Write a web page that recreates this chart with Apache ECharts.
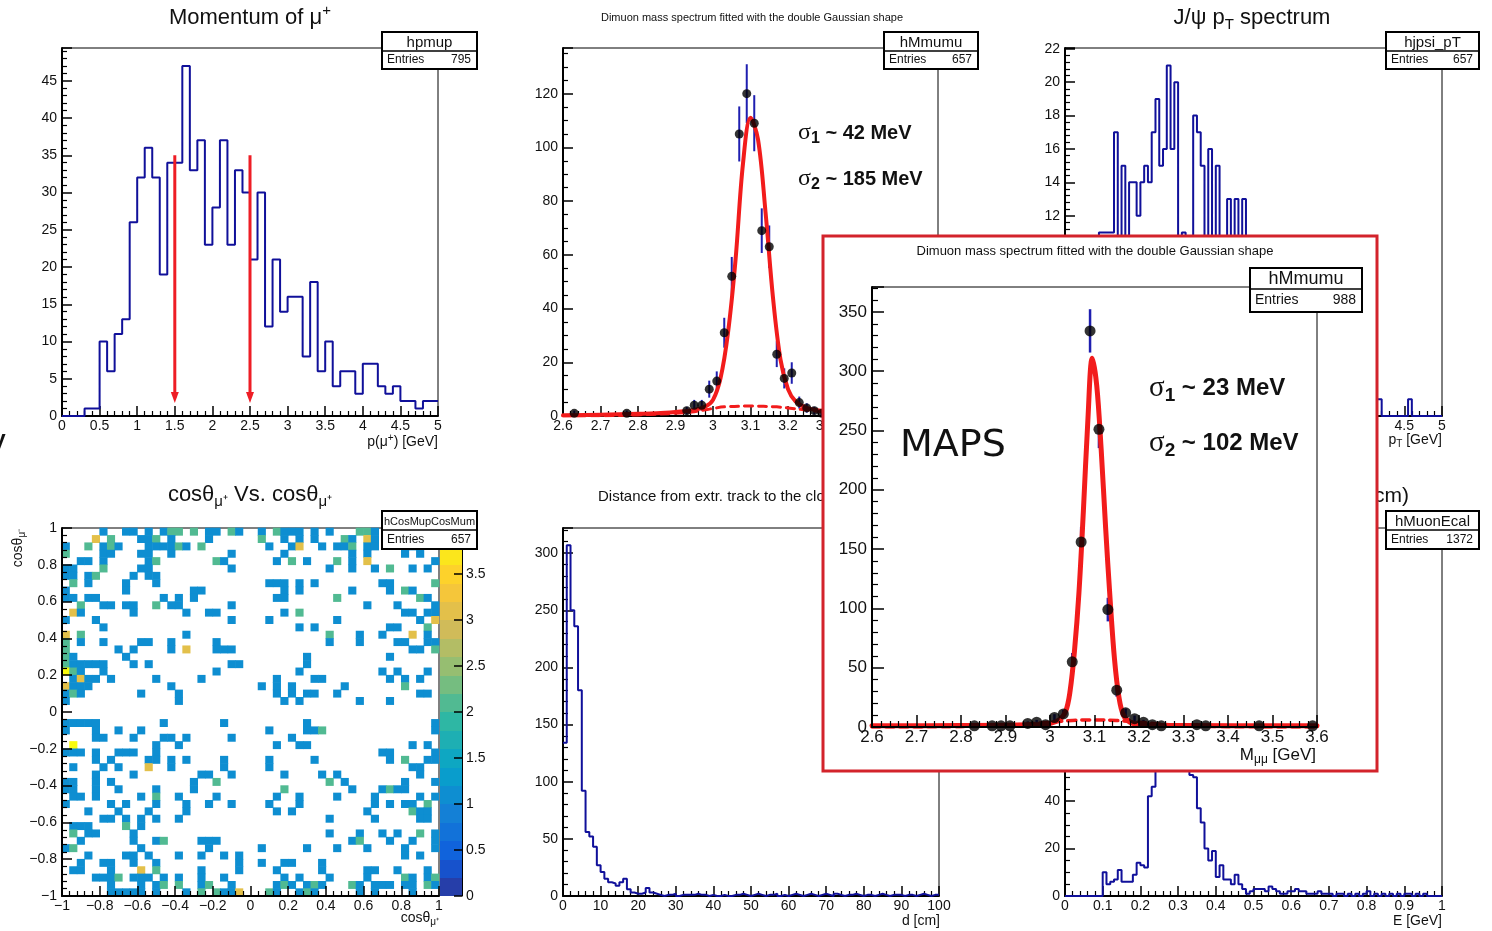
<!DOCTYPE html>
<html>
<head>
<meta charset="utf-8">
<title>J/psi to mu mu control plots</title>
<script src="https://cdn.jsdelivr.net/npm/echarts@6/dist/echarts.min.js"></script>
<style>
  html, body { margin: 0; padding: 0; background: #fff; }
  #main { width: 1492px; height: 931px; }
</style>
</head>
<body>
<div id="main"></div>
<script>
// ---------- values ----------

// hpmup : momentum of mu+, 50 bins from 0 to 5 GeV
var pmupCounts = [0, 0, 0, 1, 1, 10, 6, 11, 13, 26,
                  32, 36, 32, 19, 34, 34, 47, 33, 37, 23,
                  28, 37, 23, 33, 30, 21, 30, 12, 21, 14,
                  16, 16, 8, 18, 6, 10, 4, 6, 6, 3,
                  7, 7, 4, 3, 4, 2, 2, 1, 2, 2];
var pmupCuts = [1.5, 2.5];
var pmupArrowTop = 35, pmupArrowTip = 2.5;

// hMmumu (upper plot): bin centres and contents
var mmX = [2.63, 2.77, 2.93, 2.95, 2.97, 2.99, 3.01, 3.03, 3.05, 3.07, 3.09, 3.11, 3.13, 3.15, 3.17, 3.19, 3.21, 3.23, 3.25, 3.27, 3.29, 3.35, 3.43, 3.51];
var mmY = [1, 1, 2, 4, 4, 10, 13, 31, 52, 105, 120, 109, 69, 63, 23, 14, 16, 5, 3, 2, 1, 1, 1, 1];
// fitted double gaussian (solid) and its wide component (dashed)
var mmFitX = [2.6, 2.7, 2.8, 2.85, 2.9, 2.95, 2.98, 3.0, 3.02, 3.04, 3.06, 3.08, 3.1, 3.12, 3.14, 3.16, 3.18, 3.2, 3.22, 3.25, 3.3, 3.4, 3.5, 3.6];
var mmFitY = [0.3, 0.5, 0.8, 1.0, 1.5, 2.2, 3.5, 6, 14, 31, 58, 94, 111, 103, 76, 44, 21, 10, 5.5, 3.0, 1.8, 0.9, 0.4, 0.2];
var mmWideX = [2.6, 2.7, 2.8, 2.9, 2.95, 3.0, 3.03, 3.1, 3.17, 3.2, 3.25, 3.3, 3.4, 3.5, 3.6];
var mmWideY = [0.0, 0.1, 0.4, 1.0, 1.6, 2.8, 3.4, 3.7, 3.4, 3.0, 2.2, 1.4, 0.5, 0.1, 0.0];

// hjpsi_pT : 100 bins from 0 to 5 GeV
var ptCounts = [0, 1, 1, 2, 3, 4, 6, 7, 9, 11,
                11, 11, 11, 17, 9, 15, 9, 14, 14, 12,
                14, 15, 14, 17, 19, 15, 16, 21, 16, 20,
                10, 11, 10, 9, 18, 17, 15, 10, 16, 10,
                15, 9, 10, 13, 10, 13, 9, 13, 10, 8,
                9, 7, 8, 6, 7, 5, 6, 4, 5, 4,
                3, 4, 3, 2, 3, 2, 2, 1, 2, 1,
                1, 2, 1, 1, 0, 1, 1, 0, 1, 0,
                1, 0, 1, 1, 0, 0, 0, 0, 0, 0,
                0, 1, 0, 0, 0, 0, 0, 0, 0, 0];

// hCosMupCosMum : 50 x 50 cells, rows from cos = +1 (top) down to -1, columns from -1 to +1
var cosRows = [
  "0000010011 0101220201 1021001021 1101010002 2100100100",
  "0000302000 1120100001 0000002001 0101000210 3100010000",
  "1002012100 0111121020 0000000100 1300101120 1100001000",
  "2000011000 1100100000 0010000001 0000000010 1000010100",
  "0011010000 0120000000 2100000010 2010002010 3000000001",
  "1100020000 1100000000 0010000000 0000010010 0102001010",
  "1101200001 0110000000 0000000000 0000000000 0000000000",
  "0201000010 0010000000 0000000111 0101000000 0011000002",
  "1000000010 0000000110 0000000001 0100000010 0001021000",
  "1101100000 0001010100 0000000011 0000002000 0000000210",
  "0020011011 0020110000 0010000000 0000000000 1000100001",
  "0310000001 0000001001 1000000001 0200000000 0000011011",
  "1000100000 0000000000 0010000100 0000001000 0000000103",
  "0000010000 0000000000 0000000000 0101000000 0001100020",
  "3020000000 0000001000 0000000000 0000020001 0010003010",
  "2010010000 1100100000 1000000000 0000010001 0000110011",
  "2000000101 0000103000 1110000000 0000000000 0000001102",
  "2100000010 0000000000 0000000000 0010000000 0001000000",
  "2111110001 0100000000 0011000000 0010000000 0000000000",
  "4210010000 0000000000 1000000000 0100000000 0010100010",
  "0131101000 0010000010 0000000010 0001100000 0001010100",
  "3111000000 0000100000 0000001010 1000000100 0000020000",
  "1210000000 1000010000 0000000010 1011001000 0000000110",
  "1000000000 0000010000 0000000001 0100000001 0001000000",
  "0000000000 0000000000 0000000000 0000000000 0000000000",
  "0000000000 0000000000 0000000000 0000000000 0000000000",
  "1111100000 0001000000 0100000000 0010000000 0000000001",
  "1000100100 1000000000 0000000100 0011200000 0000000001",
  "0000110001 0001101000 0010000000 1000000000 0000000000",
  "0400000000 0010010000 0000000010 0110000000 0000001010",
  "1110100111 0010000000 0000000000 0000000000 0011000001",
  "0000101000 0110101000 0100000100 0001000000 0001020011",
  "0100010100 0300100000 0100000100 0000000000 0000001100",
  "0000100001 0000000011 0010000001 0000101000 0000000100",
  "1100101000 0000000100 2000000000 0000020100 0000010001",
  "1100100100 0010000100 0000000002 0000000010 0012110000",
  "0110100000 1020010000 1000000010 0100001000 0100000101",
  "1000001010 0010001001 0010000100 0100000000 0101011020",
  "0001000100 0100001000 0000000010 1000000000 1000002110",
  "0000011010 1010010000 0000000000 0000010000 0100000110",
  "0111000020 1000000000 0000000000 0000000000 0000000000",
  "0201100001 0000000000 0000000000 0000010001 0010100201",
  "0010000001 0012000011 1000000000 0000000012 0001001001",
  "1200000000 1000000001 0000001000 0010001000 1000010001",
  "0001000011 0100010010 0101000000 0000000000 0000010100",
  "0010011001 0010000000 0001001001 1000100000 0000000000",
  "0110001000 3020000010 0001000010 0000100000 1100100010",
  "0000111201 1101010010 0100000001 0100010000 1000021012",
  "0000001000 1012020012 0010000012 1012100021 0111011021",
  "0000001111 1010001020 2113000210 0121000001 0100001000"
];

// distance from extrapolated track to closest cluster : 100 bins from 0 to 100 cm
var distCounts = [134, 307, 250, 236, 180, 92, 56, 52, 43, 27,
                  21, 15, 12, 11, 9, 12, 15, 6, 3, 2,
                  2, 3, 7, 3, 2, 1, 0, 1, 1, 2,
                  0, 1, 1, 1, 1, 2, 1, 1, 0, 1,
                  0, 0, 1, 0, 0, 1, 1, 2, 1, 0,
                  1, 2, 1, 0, 1, 1, 2, 0, 1, 0,
                  1, 2, 1, 0, 1, 2, 1, 0, 1, 2,
                  1, 0, 2, 1, 0, 1, 1, 2, 1, 0,
                  1, 1, 0, 1, 2, 1, 0, 1, 1, 1,
                  0, 1, 1, 0, 1, 2, 1, 0, 1, 1];

// hMuonEcal : 100 bins from 0 to 1 GeV
var ecalCounts = [0, 0, 0, 0, 0, 0, 0, 0, 0, 0,
                  10, 5, 6, 7, 11, 6, 6, 6, 9, 14,
                  13, 12, 42, 46, 60, 85, 118, 147, 140, 110,
                  80, 62, 55, 51, 50, 37, 31, 20, 15, 19,
                  8, 13, 7, 7, 5, 9, 5, 3, 1, 2,
                  3, 3, 3, 2, 4, 3, 2, 1, 1, 2,
                  2, 3, 2, 2, 1, 1, 1, 2, 1, 1,
                  1, 0, 1, 1, 0, 1, 0, 1, 0, 1,
                  2, 0, 1, 0, 1, 0, 1, 0, 1, 0,
                  1, 1, 0, 1, 0, 1, 0, 0, 0, 0];

// hMmumu with MAPS (inset): bin centres and contents
var mapsX = [2.83, 2.87, 2.89, 2.91, 2.95, 2.97, 2.99, 3.01, 3.03, 3.05, 3.07, 3.09, 3.11, 3.13, 3.15, 3.17, 3.19, 3.21, 3.23, 3.25, 3.33, 3.35, 3.47, 3.59];
var mapsY = [1, 1, 1, 1, 3, 4, 2, 8, 11, 55, 156, 334, 251, 99, 31, 12, 7, 4, 2, 1, 2, 1, 1, 1];
var mapsFitX = [2.6, 2.8, 2.95, 3.0, 3.02, 3.035, 3.045, 3.055, 3.065, 3.075, 3.085, 3.095, 3.105, 3.115, 3.125, 3.135, 3.145, 3.155, 3.165, 3.18, 3.2, 3.3, 3.6];
var mapsFitY = [1.0, 1.2, 1.8, 3, 6, 13, 30, 64, 113, 182, 258, 311, 288, 234, 168, 108, 57, 25, 10, 4, 2, 1.2, 1.0];
var mapsWideX = [2.6, 2.8, 2.9, 2.95, 3.0, 3.05, 3.1, 3.15, 3.2, 3.25, 3.3, 3.4, 3.6];
var mapsWideY = [0, 0.3, 1.2, 2.5, 4, 5.5, 6, 5.5, 4, 2.5, 1.2, 0.3, 0];

// ---------- styling ----------
var FONT = '"Liberation Sans", Arial, Helvetica, sans-serif';
var SERIF = '"Liberation Serif", "DejaVu Serif", serif';
var INK = '#111';
var HIST = '#10109a';
var ERRB = '#1f1fb0';
var FITRED = '#f21c1c';
var FRAME_RED = '#d3232b';

// ROOT "bird" palette stops
var birdPos = [0, 0.125, 0.25, 0.375, 0.5, 0.625, 0.75, 0.875, 1];
var birdR = [0.2082, 0.0592, 0.0780, 0.0232, 0.1802, 0.5301, 0.8186, 0.9956, 0.9764];
var birdG = [0.1664, 0.3599, 0.5041, 0.6419, 0.7178, 0.7492, 0.7328, 0.7862, 0.9832];
var birdB = [0.5293, 0.8684, 0.8385, 0.7914, 0.6425, 0.4662, 0.3499, 0.1968, 0.0539];
function bird(t) {
  var i = 0;
  while (i < birdPos.length - 2 && t > birdPos[i + 1]) i++;
  var f = (t - birdPos[i]) / (birdPos[i + 1] - birdPos[i]);
  function ch(a) { return Math.round(255 * (a[i] + f * (a[i + 1] - a[i]))); }
  return 'rgb(' + ch(birdR) + ',' + ch(birdG) + ',' + ch(birdB) + ')';
}
var zMax = 4, nLevels = 20;
var levels = [];
for (var k = 0; k < nLevels; k++) {
  levels.push([(k * zMax) / nLevels, ((k + 1) * zMax) / nLevels, bird((k + 0.99) / nLevels)]);
}

function fmt(v) {
  return String(Math.round(v * 10000) / 10000).replace('-', '\u2212');
}
function stepData(counts, x0, w) {
  var d = [];
  for (var i = 0; i < counts.length; i++) d.push([x0 + i * w, counts[i]]);
  d.push([x0 + counts.length * w, counts[counts.length - 1]]);
  return d;
}
function pairs(xs, ys) {
  return xs.map(function (x, i) { return [x, ys[i]]; });
}

function axis(grid, min, max, interval, split, o) {
  o = o || {};
  var tick = o.tick || 10;
  return {
    gridIndex: grid, type: 'value', min: min, max: max, interval: interval,
    position: o.position,
    zlevel: o.zlevel || 0, z: o.zlevel ? 6 : 2,
    axisLine: { show: true, onZero: false, lineStyle: { color: '#000', width: o.lineW || 2 } },
    axisTick: { show: true, inside: true, length: tick, lineStyle: { color: '#000', width: 1.5 } },
    minorTick: { show: split > 0, splitNumber: split || 5, length: tick / 2, lineStyle: { color: '#000', width: 1.2 } },
    splitLine: { show: false },
    axisLabel: {
      color: INK, fontSize: o.font || 14, fontFamily: FONT, margin: o.margin || 5,
      formatter: fmt, showMaxLabel: o.maxLabel === false ? false : null
    }
  };
}

var grids = [
  { left: 62, top: 48, width: 376, height: 368 },    // momentum
  { left: 563, top: 48, width: 375, height: 368 },   // dimuon mass
  { left: 1065, top: 48, width: 377, height: 368 },  // pT
  { left: 62, top: 528, width: 377, height: 368 },   // cos vs cos
  { left: 440, top: 528, width: 22, height: 368, borderWidth: 0 }, // palette
  { left: 563, top: 528, width: 376, height: 368 },  // distance
  { left: 1065, top: 528, width: 377, height: 368 }, // ecal
  { left: 872, top: 287, width: 445, height: 440, zlevel: 1, z: 5 } // MAPS inset
].map(function (g) {
  g.show = true;
  g.borderColor = '#000';
  if (g.borderWidth == null) g.borderWidth = 1;
  g.backgroundColor = 'rgba(0,0,0,0)';
  g.outerBoundsMode = 'none';
  return g;
});

var xAxes = [
  axis(0, 0, 5, 0.5, 5, { margin: 3 }),
  axis(1, 2.6, 3.6, 0.1, 5, { margin: 3 }),
  axis(2, 0, 5, 0.5, 5, { margin: 3 }),
  axis(3, -1, 1, 0.2, 5, { margin: 3 }),
  { gridIndex: 4, type: 'value', min: 0, max: 1, show: false },
  axis(5, 0, 100, 10, 5, { margin: 3 }),
  axis(6, 0, 1, 0.1, 5, { margin: 3 }),
  axis(7, 2.6, 3.6, 0.1, 5, { zlevel: 1, font: 17, tick: 12, margin: 2 })
];
var yAxes = [
  axis(0, 0, 49.4, 5, 5, { maxLabel: false }),
  axis(1, 0, 137, 20, 4, { maxLabel: false }),
  axis(2, 0, 22.05, 2, 5, { maxLabel: false }),
  axis(3, -1, 1, 0.2, 5),
  axis(4, 0, 4, 0.5, 0, { position: 'right', lineW: 1, tick: 8, maxLabel: false, margin: 4 }),
  axis(5, 0, 322, 50, 5, { maxLabel: false }),
  axis(6, 0, 155, 20, 4, { maxLabel: false }),
  axis(7, 0, 371, 50, 5, { zlevel: 1, font: 17, tick: 12, maxLabel: false })
];

// ---------- series ----------
function histLine(ai, counts, x0, w) {
  return {
    type: 'line', xAxisIndex: ai, yAxisIndex: ai, data: stepData(counts, x0, w),
    step: 'end', symbol: 'none', lineStyle: { color: HIST, width: 2 }, z: 3
  };
}
function errBars(ai, xs, ys, width, zl) {
  return {
    type: 'custom', xAxisIndex: ai, yAxisIndex: ai, zlevel: zl || 0, z: 3,
    data: pairs(xs, ys),
    renderItem: function (params, api) {
      var x = api.value(0), y = api.value(1), e = Math.sqrt(y);
      var a = api.coord([x, y - e]), b = api.coord([x, y + e]);
      return { type: 'line', shape: { x1: a[0], y1: a[1], x2: b[0], y2: b[1] }, style: { stroke: ERRB, lineWidth: width } };
    }
  };
}
function fitLine(ai, xs, ys, width, dashed, zl) {
  return {
    type: 'line', xAxisIndex: ai, yAxisIndex: ai, zlevel: zl || 0, z: dashed ? 4 : 5,
    data: pairs(xs, ys), smooth: 0.35, symbol: 'none',
    lineStyle: { color: FITRED, width: width, type: dashed ? [8, 6] : 'solid', join: 'round', cap: 'round' }
  };
}
function dots(ai, xs, ys, size, zl) {
  return {
    type: 'scatter', xAxisIndex: ai, yAxisIndex: ai, zlevel: zl || 0, z: 6,
    data: pairs(xs, ys), symbolSize: size, itemStyle: { color: '#000' }
  };
}

var series = [];
// momentum of mu+
series.push(histLine(0, pmupCounts, 0, 0.1));
pmupCuts.forEach(function (c) {
  series.push({
    type: 'line', xAxisIndex: 0, yAxisIndex: 0, z: 4,
    data: [{ value: [c, pmupArrowTop], symbol: 'none' }, { value: [c, pmupArrowTip] }],
    symbol: 'triangle', symbolSize: [8, 11], symbolRotate: 180, showSymbol: true,
    itemStyle: { color: '#ee1d25' }, lineStyle: { color: '#ee1d25', width: 3 }
  });
});
// dimuon mass
series.push(errBars(1, mmX, mmY, 2));
series.push(fitLine(1, mmWideX, mmWideY, 3, true));
series.push(fitLine(1, mmFitX, mmFitY, 4, false));
series.push(dots(1, mmX, mmY, 9));
// pT
series.push(histLine(2, ptCounts, 0, 0.05));
// cos vs cos
var cosBinW = 0.04;
var cells = [];
cosRows.forEach(function (row, r) {
  var s = row.replace(/ /g, '');
  for (var c = 0; c < s.length; c++) {
    var v = +s.charAt(c);
    if (v > 0) cells.push([-1 + c * cosBinW, 1 - (r + 1) * cosBinW, v]);
  }
});
var heatIndex = series.length;
series.push({
  type: 'custom', xAxisIndex: 3, yAxisIndex: 3, z: 2,
  data: cells, encode: { x: 0, y: 1 },
  renderItem: function (params, api) {
    var x = api.value(0), y = api.value(1);
    var a = api.coord([x, y + cosBinW]), b = api.coord([x + cosBinW, y]);
    return {
      type: 'rect',
      shape: { x: a[0] - 0.3, y: a[1] - 0.3, width: b[0] - a[0] + 0.6, height: b[1] - a[1] + 0.6 },
      style: { fill: api.visual('color') }
    };
  }
});
series.push({
  type: 'custom', xAxisIndex: 4, yAxisIndex: 4, z: 2,
  data: levels.map(function (l, i) { return [l[0], l[1], i]; }),
  renderItem: function (params, api) {
    var lo = api.value(0), hi = api.value(1);
    var a = api.coord([0, hi]), b = api.coord([1, lo]);
    return {
      type: 'rect',
      shape: { x: a[0], y: Math.floor(a[1]), width: b[0] - a[0], height: Math.ceil(b[1]) - Math.floor(a[1]) },
      style: { fill: levels[api.value(2)][2] }
    };
  }
});
// distance
series.push(histLine(5, distCounts, 0, 1));
// ecal
series.push(histLine(6, ecalCounts, 0, 0.01));
// MAPS inset
series.push(errBars(7, mapsX, mapsY, 2.5, 1));
series.push(fitLine(7, mapsWideX, mapsWideY, 3.5, true, 1));
series.push(fitLine(7, mapsFitX, mapsFitY, 5, false, 1));
series.push(dots(7, mapsX, mapsY, 11, 1));

// ---------- texts and boxes ----------
function label(x, y, str, size, o) {
  o = o || {};
  var st = {
    text: str,
    font: (o.weight || 'normal') + ' ' + size + 'px ' + (o.family || FONT),
    fill: INK,
    align: o.align || 'left', textAlign: o.align || 'left',
    verticalAlign: 'middle', textVerticalAlign: 'middle'
  };
  if (o.rich) st.rich = o.rich;
  return { type: 'text', x: x, y: y, rotation: o.rotation || 0, zlevel: o.zlevel || 0, z: 120, silent: true, style: st };
}
function richSet(size, extra) {
  var r = {
    t: { fontSize: size, fontFamily: FONT, lineHeight: Math.round(size * 1.3), fill: INK },
    sub: { fontSize: Math.round(size * 0.68), fontFamily: FONT, lineHeight: Math.round(size * 0.62), verticalAlign: 'bottom', fill: INK },
    sup: { fontSize: Math.round(size * 0.68), fontFamily: FONT, lineHeight: Math.round(size * 0.62), verticalAlign: 'top', fill: INK }
  };
  for (var k in (extra || {})) r[k] = extra[k];
  return r;
}
function statsBox(x0, y0, x1, y1, yDiv, name, entries, nameSize, entSize, zl) {
  zl = zl || 0;
  return [
    { type: 'rect', zlevel: zl, z: 110, silent: true, shape: { x: x0, y: y0, width: x1 - x0, height: y1 - y0 }, style: { fill: '#fff', stroke: '#000', lineWidth: 2 } },
    { type: 'line', zlevel: zl, z: 111, silent: true, shape: { x1: x0, y1: yDiv, x2: x1, y2: yDiv }, style: { stroke: '#000', lineWidth: 1.5 } },
    label((x0 + x1) / 2, (y0 + yDiv) / 2 + 1, name, nameSize, { align: 'center', zlevel: zl }),
    label(x0 + 5, (yDiv + y1) / 2, 'Entries', entSize, { zlevel: zl }),
    label(x1 - 6, (yDiv + y1) / 2, String(entries), entSize, { align: 'right', zlevel: zl })
  ];
}
function sigmaText(x, y, idx, str, sSize, bSize, zl) {
  return label(x, y, '{s|\u03c3}{sub|' + idx + '}{b| ~ ' + str + '}', bSize, {
    zlevel: zl,
    rich: {
      s: { fontSize: sSize, fontFamily: SERIF, lineHeight: Math.round(bSize * 1.4), fill: INK },
      sub: { fontSize: Math.round(bSize * 0.78), fontFamily: FONT, fontWeight: 'bold', lineHeight: Math.round(bSize * 0.8), verticalAlign: 'bottom', fill: INK },
      b: { fontSize: bSize, fontFamily: FONT, fontWeight: 'bold', lineHeight: Math.round(bSize * 1.4), fill: INK }
    }
  });
}

var els = [];
// titles
els.push(label(250, 18, '{t|Momentum of \u03bc}{sup|+}', 22, { align: 'center', rich: richSet(22) }));
els.push(label(752, 18, 'Dimuon mass spectrum fitted with the double Gaussian shape', 11, { align: 'center' }));
els.push(label(1252, 18, '{t|J/\u03c8 p}{sub|T}{t| spectrum}', 22, { align: 'center', rich: richSet(22) }));
els.push(label(250, 495, '{t|cos\u03b8}{sub|\u03bc\u207a}{t| Vs. cos\u03b8}{sub|\u03bc\u207a}', 22, { align: 'center', rich: richSet(22) }));
els.push(label(598, 497, 'Distance from extr. track to the closest cluster', 15));
els.push(label(1409, 496, 'Muon energy in ECAL (R < 5 cm)', 21, { align: 'right' }));
// axis titles
els.push(label(438, 442, '{t|p(\u03bc}{sup|+}{t|) [GeV]}', 14, { align: 'right', rich: richSet(14) }));
els.push(label(938, 442, '{t|M}{sub|\u03bc\u03bc}{t| [GeV]}', 14, { align: 'right', rich: richSet(14) }));
els.push(label(1442, 440, '{t|p}{sub|T}{t| [GeV]}', 14, { align: 'right', rich: richSet(14) }));
els.push(label(439, 918, '{t|cos\u03b8}{sub|\u03bc\u207a}', 14, { align: 'right', rich: richSet(14) }));
els.push(label(18, 548, '{t|cos\u03b8}{sub|\u03bc\u207b}', 14, { align: 'center', rotation: Math.PI / 2, rich: richSet(14) }));
els.push(label(940, 921, 'd [cm]', 14, { align: 'right' }));
els.push(label(1442, 921, 'E [GeV]', 14, { align: 'right' }));
els.push(label(-9, 443, 'V', 22, { weight: 'bold' }));
// sigma annotations of the upper mass plot
els.push(sigmaText(798, 133, 1, '42 MeV', 24, 20, 0));
els.push(sigmaText(798, 179, 2, '185 MeV', 24, 20, 0));
// stats boxes
els = els.concat(statsBox(382, 32, 477, 69, 51, 'hpmup', 795, 15, 12));
els = els.concat(statsBox(884, 32, 978, 69, 51, 'hMmumu', 657, 15, 12));
els = els.concat(statsBox(1386, 32, 1479, 69, 51, 'hjpsi_pT', 657, 15, 12));
els = els.concat(statsBox(382, 511, 477, 549, 530, 'hCosMupCosMum', 657, 11, 12));
els = els.concat(statsBox(1386, 511, 1479, 549, 530, 'hMuonEcal', 1372, 15, 12));

// MAPS inset (drawn on its own layer)
els.push({ type: 'rect', zlevel: 1, z: 0, silent: true, shape: { x: 823, y: 236, width: 554, height: 535 }, style: { fill: '#fff', stroke: FRAME_RED, lineWidth: 3 } });
els.push(label(1095, 251, 'Dimuon mass spectrum fitted with the double Gaussian shape', 13, { align: 'center', zlevel: 1 }));
els = els.concat(statsBox(1250, 268, 1362, 312, 289, 'hMmumu', 988, 18, 14, 1));
els.push(label(900, 446, 'MAPS', 38, { family: '"DejaVu Sans", sans-serif', zlevel: 1 }));
els.push(sigmaText(1149, 388, 1, '23 MeV', 29, 24, 1));
els.push(sigmaText(1149, 443, 2, '102 MeV', 29, 24, 1));
els.push(label(1316, 755, '{t|M}{sub|\u03bc\u03bc}{t| [GeV]}', 17, { align: 'right', zlevel: 1, rich: richSet(17) }));

var chart = echarts.init(document.getElementById('main'));
chart.setOption({
  backgroundColor: '#fff',
  animation: false,
  textStyle: { fontFamily: FONT },
  grid: grids,
  xAxis: xAxes,
  yAxis: yAxes,
  visualMap: [{
    type: 'piecewise', show: false, seriesIndex: heatIndex, dimension: 2,
    pieces: levels.map(function (l, i) {
      return i === levels.length - 1 ? { gte: l[0], lte: l[1], color: l[2] } : { gte: l[0], lt: l[1], color: l[2] };
    })
  }],
  series: series,
  graphic: { elements: els }
});
window.addEventListener('resize', function () { chart.resize(); });
</script>
</body>
</html>
